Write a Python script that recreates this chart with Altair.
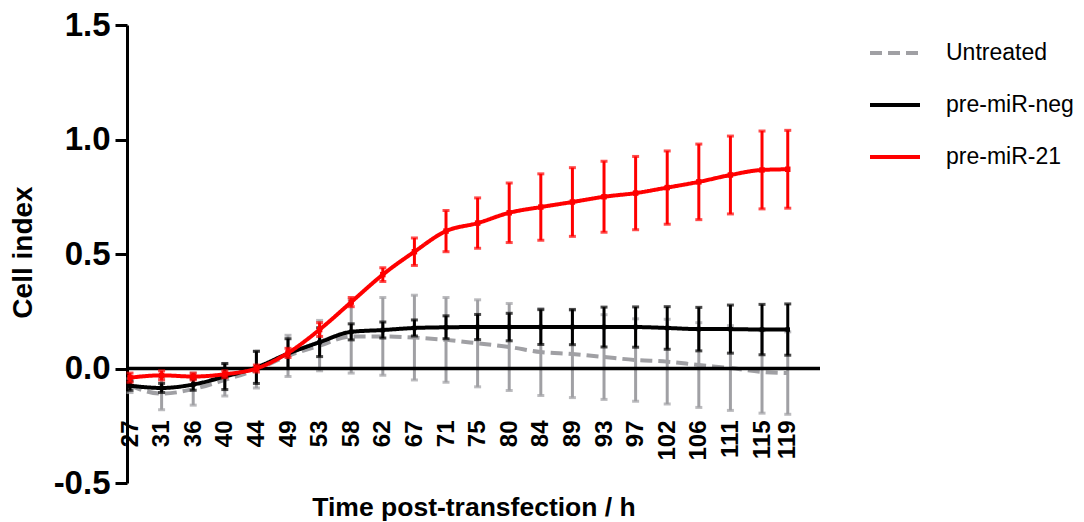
import altair as alt
import pandas as pd

# ---- data ----
times = [26.75, 31.17, 35.59, 40.01, 44.43, 48.85, 53.27, 57.69, 62.11, 66.53, 70.95,
         75.37, 79.79, 84.21, 88.63, 93.05, 97.47, 101.89, 106.31, 110.73, 115.15, 118.75]

series_names = ["Untreated", "pre-miR-neg", "pre-miR-21"]

untreated_mean = [-0.075, -0.11, -0.09, -0.05, -0.005, 0.055, 0.10, 0.14, 0.14, 0.135, 0.125,
                  0.11, 0.094, 0.072, 0.063, 0.05, 0.037, 0.03, 0.015, 0.002, -0.015, -0.02]
untreated_err = [0.03, 0.07, 0.07, 0.07, 0.08, 0.09, 0.11, 0.16, 0.17, 0.185, 0.185,
                 0.19, 0.19, 0.19, 0.19, 0.185, 0.18, 0.185, 0.185, 0.185, 0.18, 0.18]

neg_mean = [-0.075, -0.085, -0.07, -0.035, 0.005, 0.065, 0.115, 0.16, 0.168, 0.177, 0.18,
            0.181, 0.181, 0.181, 0.181, 0.181, 0.181, 0.177, 0.172, 0.172, 0.17, 0.17]
neg_err = [0.02, 0.02, 0.025, 0.057, 0.07, 0.065, 0.063, 0.035, 0.035, 0.035, 0.05,
           0.055, 0.06, 0.076, 0.077, 0.087, 0.088, 0.093, 0.095, 0.105, 0.11, 0.112]

mir21_mean = [-0.04, -0.03, -0.035, -0.025, 0.0, 0.068, 0.17, 0.29, 0.41, 0.51, 0.60,
              0.635, 0.68, 0.705, 0.727, 0.75, 0.766, 0.79, 0.815, 0.845, 0.867, 0.87]
mir21_err = [0.02, 0.02, 0.015, 0.015, 0.015, 0.02, 0.03, 0.02, 0.03, 0.06, 0.09,
             0.11, 0.13, 0.145, 0.15, 0.155, 0.16, 0.16, 0.165, 0.17, 0.17, 0.17]

y_ticks = [-0.5, 0.0, 0.5, 1.0, 1.5]

colors = ["#a0a0a4", "#000000", "#ff0000"]
dashes = [[12, 6], [1, 0], [1, 0]]

FONT = "Liberation Sans"

# ---- build table ----
rows = []
for name, means, errs in zip(series_names,
                             [untreated_mean, neg_mean, mir21_mean],
                             [untreated_err, neg_err, mir21_err]):
    for t, m, e in zip(times, means, errs):
        rows.append({"time": t, "series": name, "mean": m, "lo": m - e, "hi": m + e})
df = pd.DataFrame(rows)

x_enc = alt.X(
    "time:Q",
    scale=alt.Scale(domain=[26.33, 123.26], nice=False, zero=False),
    axis=alt.Axis(
        values=times,
        labelExpr="format(datum.value, '.0f')",
        labelAngle=-90,
        labelFontSize=24,
        labelFontWeight="bold",
        labelPadding=-63,
        labelOverlap=False,
        labelFlush=False,
        domain=False,
        ticks=False,
        tickSize=0,
        grid=False,
        title="Time post-transfection / h",
        titleFontSize=26.5,
        titleFontWeight="bold",
        titleY=32,
        titleBaseline="alphabetic",
    ),
)

y_scale = alt.Scale(domain=[-0.5, 1.5], nice=False, zero=False)
y_enc = alt.Y(
    "mean:Q",
    scale=y_scale,
    axis=alt.Axis(
        values=y_ticks,
        labelExpr="datum.value < 0 ? '-' + format(-datum.value, '.1f') : format(datum.value, '.1f')",
        labelFontSize=33,
        labelFontWeight="bold",
        labelPadding=5,
        tickSize=12,
        tickWidth=3,
        domainWidth=3,
        grid=False,
        title="Cell index",
        titleFontSize=28,
        titleFontWeight="bold",
        titleX=-104,
        titleY=227,
        titleAngle=-90,
        titleAlign="center",
        titleBaseline="middle",
    ),
)

legend = alt.Legend(
    title=None,
    orient="none",
    legendX=741,
    legendY=1,
    symbolType="stroke",
    symbolSize=2500,
    symbolStrokeWidth=4,
    labelFontSize=23,
    labelFont=FONT,
    labelColor="black",
    labelOffset=24,
    rowPadding=13,
    padding=0,
)

color_enc = alt.Color("series:N", scale=alt.Scale(domain=series_names, range=colors), legend=legend)
dash_enc = alt.StrokeDash("series:N", scale=alt.Scale(domain=series_names, range=dashes), legend=legend)

base = alt.Chart(df)


def series_layers(name, col, with_points, point_size):
    sub = base.transform_filter(alt.datum.series == name)
    err = sub.mark_rule(strokeWidth=3, color=col).encode(
        x=x_enc, y=alt.Y("lo:Q", scale=y_scale), y2="hi:Q")
    cap_lo = sub.mark_tick(orient="horizontal", size=7, thickness=3, color=col).encode(
        x=x_enc, y=alt.Y("lo:Q", scale=y_scale))
    cap_hi = sub.mark_tick(orient="horizontal", size=7, thickness=3, color=col).encode(
        x=x_enc, y=alt.Y("hi:Q", scale=y_scale))
    line = sub.mark_line(strokeWidth=4, interpolate="monotone").encode(
        x=x_enc, y=y_enc, color=color_enc, strokeDash=dash_enc)
    layers = [err, cap_lo, cap_hi, line]
    if with_points:
        pts = sub.mark_square(size=point_size, color=col, opacity=1).encode(x=x_enc, y=y_enc)
        layers.append(pts)
    return layers


zero_line = alt.Chart(pd.DataFrame({"z": [0.0]})).mark_rule(color="black", strokeWidth=3.5).encode(
    y=alt.Y("z:Q", scale=y_scale))

layers = []
layers += series_layers("Untreated", colors[0], False, 0)
layers.append(zero_line)
layers += series_layers("pre-miR-neg", colors[1], True, 20)
layers += series_layers("pre-miR-21", colors[2], True, 30)

chart = alt.layer(*layers).properties(
    width=693,
    height=458,
    autosize=alt.AutoSizeParams(type="none"),
    padding={"left": 119, "top": 17, "right": 256, "bottom": 39},
).configure_view(stroke=None).configure_axis(
    labelFont=FONT,
    titleFont=FONT,
    labelColor="black",
    titleColor="black",
    domainColor="black",
    tickColor="black",
).configure_legend(labelFont=FONT)

chart.save("out.html", embed_options={"renderer": "svg", "actions": False})
